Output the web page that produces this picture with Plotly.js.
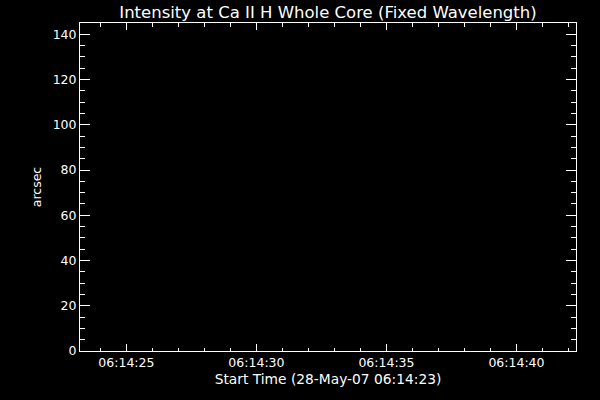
<!DOCTYPE html>
<html>
<head>
<meta charset="utf-8">
<script src="https://cdn.plot.ly/plotly-3.0.1.min.js"></script>
<style>html,body{margin:0;padding:0;background:#000;}#chart{width:600px;height:400px;}</style>
</head>
<body>
<div id="chart"></div>
<script>
// Data (the reference plot shows no visible data: empty series)
const times = [];
const intensity = [];
const xRange = ['2007-05-28 06:14:23.215', '2007-05-28 06:14:42.29'];
const yRange = [0, 145];
const xTick0 = '2007-05-28 06:14:25';

const font = {family: 'DejaVu Sans, sans-serif', color: '#ffffff', size: 12.5};
const xTitleFont = {family: 'DejaVu Sans, sans-serif', color: '#ffffff', size: 13.8};

const trace = {
  x: times, y: intensity, type: 'scatter', mode: 'lines',
  line: {color: '#ffffff', width: 1}, showlegend: false
};

const layout = {
  width: 600, height: 400,
  paper_bgcolor: '#000000', plot_bgcolor: '#000000',
  margin: {l: 80, r: 24, t: 23, b: 49},
  font: font,
  title: {text: 'Intensity at Ca II H Whole Core (Fixed Wavelength)',
    font: {family: 'DejaVu Sans, sans-serif', color: '#ffffff', size: 16.5},
    xref: 'paper', x: 0.5, xanchor: 'center',
    yref: 'container', y: 1 - 12/400, yanchor: 'middle'},
  xaxis: {
    type: 'date', range: xRange, autorange: false,
    tick0: xTick0, dtick: 5000, tickformat: '%H:%M:%S',
    ticks: 'inside', ticklen: 7, tickwidth: 1, tickcolor: '#ffffff',
    minor: {dtick: 1000, ticks: 'inside', ticklen: 3.5, tickwidth: 1, tickcolor: '#ffffff'},
    showline: true, linecolor: '#ffffff', linewidth: 1, mirror: 'ticks',
    showgrid: false, zeroline: false,
    tickfont: font,
    title: {text: 'Start Time (28-May-07 06:14:23)', font: xTitleFont, standoff: 5}
  },
  yaxis: {
    range: yRange, autorange: false,
    tick0: 0, dtick: 20,
    ticks: 'inside', ticklen: 10, tickwidth: 1, tickcolor: '#ffffff',
    minor: {dtick: 5, ticks: 'inside', ticklen: 5, tickwidth: 1, tickcolor: '#ffffff'},
    showline: true, linecolor: '#ffffff', linewidth: 1, mirror: 'ticks',
    showgrid: false, zeroline: false,
    tickfont: font,
    title: {text: 'arcsec', font: font, standoff: 8}
  }
};

Plotly.newPlot('chart', [trace], layout, {displayModeBar: false, staticPlot: true});
</script>
</body>
</html>
